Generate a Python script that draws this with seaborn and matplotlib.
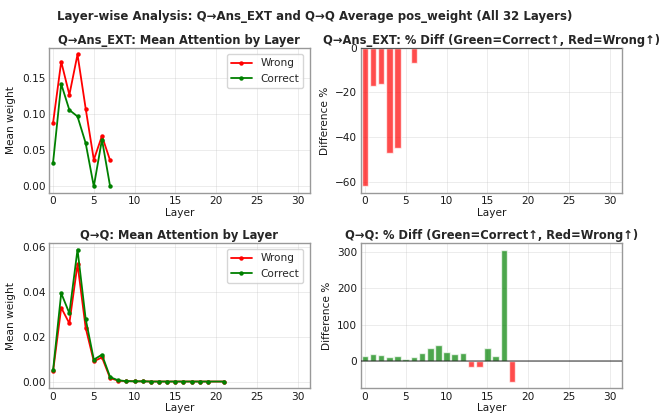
"""
Layer-wise attention comparison: Q->Ans_EXT and Q->Q, wrong vs correct.
"""
import matplotlib
matplotlib.use("Agg")
import matplotlib.pyplot as plt
import seaborn as sns
import pandas as pd
import numpy as np

sns.set_theme(style="whitegrid")
plt.rcParams["font.family"] = ["DejaVu Sans"]

# Q->Ans_EXT, layers 0-7
ans_layers = [0, 1, 2, 3, 4, 5, 6, 7]
ans_wrong = [0.088, 0.173, 0.127, 0.183, 0.108, 0.037, 0.070, 0.036]
ans_correct = [0.033, 0.142, 0.106, 0.097, 0.060, 0.000, 0.065, 0.000]
ans_diff = [-62, -17, -16, -47, -45, np.nan, -7, np.nan]

# Q->Q, layers 0-19 and 21
qq_layers = list(range(20)) + [21]
qq_wrong = [0.0045, 0.033, 0.026, 0.0525, 0.024, 0.009, 0.0108, 0.0015,
            0.0004, 0.0002, 0.0001, 0.0001, 0.0, 0.0, 0.0, 0.0, 0.0,
            0.0, 0.0, 0.0, 0.0]
qq_correct = [0.005, 0.0395, 0.0305, 0.059, 0.028, 0.0098, 0.012, 0.002,
              0.0005, 0.0002, 0.0001, 0.0001, 0.0, 0.0, 0.0, 0.0, 0.0,
              0.0, 0.0, 0.0, 0.0]
qq_diff_layers = list(range(19))
qq_diff = [14, 21, 18, 13, 16, 7, 11, 22, 36, 46, 25, 21, 22, -15, -14,
           38, 14, 306, -55]

RED = "red"
GREEN = "green"
FS = 7.6
TITLE_FS = 8.3


def style_axes(ax):
    for s in ax.spines.values():
        s.set_edgecolor("0.6")
        s.set_linewidth(1.0)
    ax.grid(True, alpha=0.35, color="0.75", linewidth=0.6)
    ax.tick_params(labelsize=FS, length=0, pad=2.5, colors="0.1")
    ax.set_xlim(-0.5, 31.5)
    ax.set_xticks([0, 5, 10, 15, 20, 25, 30])


def line_panel(ax, layers, wrong, correct, title):
    df = pd.DataFrame({"layer": layers, "Wrong": wrong, "Correct": correct})
    sns.lineplot(data=df, x="layer", y="Wrong", color=RED, marker="o",
                 markersize=3.2, markeredgewidth=0, linewidth=1.3,
                 label="Wrong", ax=ax)
    sns.lineplot(data=df, x="layer", y="Correct", color=GREEN, marker="o",
                 markersize=3.2, markeredgewidth=0, linewidth=1.3,
                 label="Correct", ax=ax)
    ax.set_title(title, fontsize=TITLE_FS, fontweight="bold", pad=3)
    ax.set_xlabel("Layer", fontsize=FS, labelpad=1, color="0.1")
    ax.set_ylabel("Mean weight", fontsize=FS, labelpad=4, color="0.1")
    ax.legend(loc="upper right", fontsize=FS, frameon=True,
              borderaxespad=0.6, handlelength=2.0)
    style_axes(ax)


def diff_panel(ax, layers, diff, title):
    df = pd.DataFrame({"layer": layers, "diff": diff}).dropna()
    df["sign"] = np.where(df["diff"] >= 0, "pos", "neg")
    ax.axhline(0, color="black", linewidth=1.2, alpha=0.5, zorder=3)
    sns.barplot(data=df, x="layer", y="diff", hue="sign",
                palette={"pos": GREEN, "neg": RED}, native_scale=True,
                dodge=False, width=0.8, alpha=0.7, saturation=1,
                errorbar=None, legend=False, ax=ax)
    ax.set_title(title, fontsize=TITLE_FS, fontweight="bold", pad=3)
    ax.set_xlabel("Layer", fontsize=FS, labelpad=1, color="0.1")
    ax.set_ylabel("Difference %", fontsize=FS, labelpad=4, color="0.1")
    style_axes(ax)


fig = plt.figure(figsize=(6.62, 4.16), dpi=100)
ax1 = fig.add_axes([0.074, 0.536, 0.394, 0.349])
ax2 = fig.add_axes([0.545, 0.536, 0.395, 0.349])
ax3 = fig.add_axes([0.074, 0.067, 0.394, 0.349])
ax4 = fig.add_axes([0.545, 0.067, 0.395, 0.349])

line_panel(ax1, ans_layers, ans_wrong, ans_correct,
           "Q→Ans_EXT: Mean Attention by Layer")
diff_panel(ax2, ans_layers, ans_diff,
           "Q→Ans_EXT: % Diff (Green=Correct↑, Red=Wrong↑)")
line_panel(ax3, qq_layers, qq_wrong, qq_correct,
           "Q→Q: Mean Attention by Layer")
diff_panel(ax4, qq_diff_layers, qq_diff,
           "Q→Q: % Diff (Green=Correct↑, Red=Wrong↑)")

ax1.set_yticks([0.0, 0.05, 0.10, 0.15])
ax3.set_yticks([0.0, 0.02, 0.04, 0.06])
ax2.set_yticks([-60, -40, -20, 0])
ax4.set_yticks([0, 100, 200, 300])

fig.suptitle("Layer-wise Analysis: Q→Ans_EXT and Q→Q Average pos_weight (All 32 Layers)",
             fontsize=8.45, fontweight="bold", x=0.476, y=0.976)

fig.savefig("out.png", dpi=100, facecolor="white")
plt.close(fig)
